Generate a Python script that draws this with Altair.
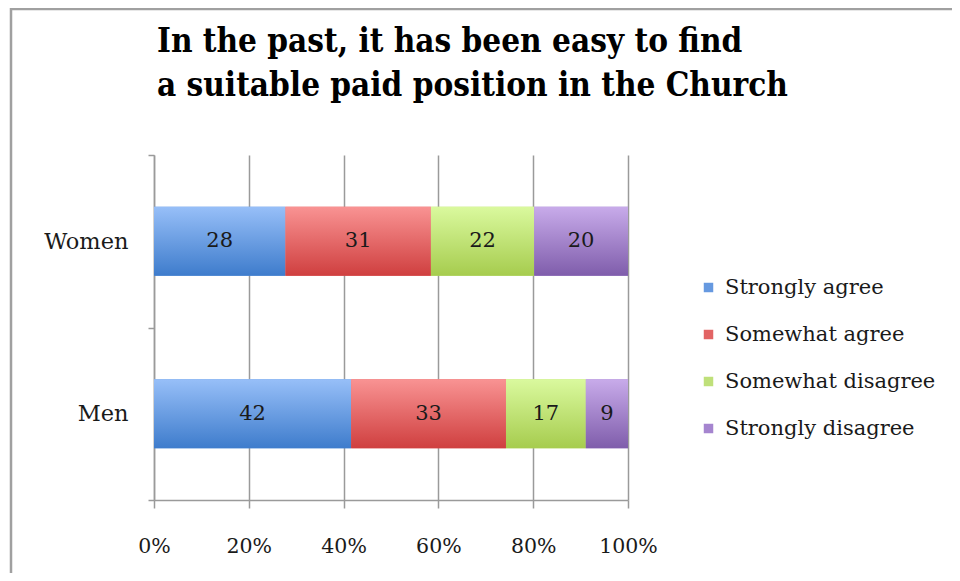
import altair as alt
import pandas as pd

groups = ["Women", "Men"]
responses = ["Strongly agree", "Somewhat agree", "Somewhat disagree", "Strongly disagree"]
women = [28, 31, 22, 20]
men = [42, 33, 17, 9]
tick_values = [0, 0.2, 0.4, 0.6, 0.8, 1.0]
solid_colors = ["#6699e0", "#e26464", "#bfe07a", "#a585cf"]
grad_stops = [
    ("#97bff8", "#3e7ccc"),
    ("#f99393", "#cf3f3f"),
    ("#daf99e", "#a6cc4e"),
    ("#c8abea", "#7f5dab"),
]
title_lines = ["In the past, it has been easy to find", "a suitable paid position in the Church"]

rows = []
for g, vals in zip(groups, [women, men]):
    for i, (r, v) in enumerate(zip(responses, vals)):
        rows.append({"group": g, "response": r, "value": v, "order": i})
df = pd.DataFrame(rows)

FONT = "DejaVu Serif"

base = (
    alt.Chart(df)
    .transform_joinaggregate(total="sum(value)", groupby=["group"])
    .transform_calculate(pct="datum.value / datum.total")
    .transform_stack(
        stack="pct",
        groupby=["group"],
        as_=["x0", "x1"],
        sort=[alt.SortField("order", order="ascending")],
    )
    .transform_calculate(mid="(datum.x0 + datum.x1) / 2")
)

y_enc = alt.Y(
    "group:N",
    sort=groups,
    scale=alt.Scale(paddingInner=0, paddingOuter=0),
    axis=alt.Axis(
        title=None,
        tickBand="extent",
        tickSize=6,
        labelPadding=20,
        labelFont=FONT,
        labelFontSize=22.5,
        labelColor="#1a1a1a",
        domainColor="#9a9a9a",
        tickColor="#9a9a9a",
        domainWidth=1.5,
        tickWidth=1.5,
        grid=False,
    ),
)

x_enc = alt.X(
    "x0:Q",
    scale=alt.Scale(domain=[0, 1], nice=False),
    axis=alt.Axis(
        title=None,
        values=tick_values,
        format=".0%",
        grid=True,
        gridColor="#9a9a9a",
        gridWidth=1.5,
        domainColor="#9a9a9a",
        tickColor="#9a9a9a",
        domainWidth=1.5,
        tickWidth=1.5,
        tickSize=8,
        labelPadding=28,
        labelFlush=False,
        labelFont=FONT,
        labelFontSize=20.5,
        labelColor="#1a1a1a",
    ),
)

bar_h = alt.RelativeBandSize(band=0.4)

solid = base.mark_bar(height=bar_h).encode(
    x=x_enc,
    x2="x1:Q",
    y=y_enc,
    color=alt.Color(
        "response:N",
        sort=responses,
        scale=alt.Scale(domain=responses, range=solid_colors),
        legend=alt.Legend(
            title=None,
            orient="none",
            legendX=544,
            legendY=122,
            symbolType="square",
            symbolSize=90,
            symbolStrokeWidth=0,
            labelFont=FONT,
            labelFontSize=21,
            labelColor="#1a1a1a",
            labelLimit=400,
            rowPadding=25,
            labelOffset=6,
        ),
    ),
)

layers = [solid]
for r, (top, bottom) in zip(responses, grad_stops):
    grad = alt.Gradient(
        gradient="linear",
        x1=0, y1=0, x2=0, y2=1,
        stops=[alt.GradientStop(color=top, offset=0), alt.GradientStop(color=bottom, offset=1)],
    )
    layers.append(
        base.transform_filter(alt.datum.response == r)
        .mark_bar(color=grad, height=bar_h)
        .encode(x="x0:Q", x2="x1:Q", y=alt.Y("group:N", sort=groups))
    )

text = base.mark_text(font=FONT, fontSize=21, color="#1a1a1a").encode(
    x="mid:Q", y=alt.Y("group:N", sort=groups), text="value:Q"
)
layers.append(text)

title = alt.Chart(alt.Data(values=[{}])).mark_text(
    text=title_lines,
    font="DejaVu Serif Condensed",
    fontSize=33,
    fontWeight="bold",
    color="#000000",
    align="left",
    baseline="alphabetic",
    lineHeight=43.5,
).encode(x=alt.value(3), y=alt.value(-103))
layers.append(title)

frame = alt.Chart(alt.Data(values=[{}])).mark_rect(
    filled=False, stroke="#a0a0a0", strokeWidth=2.5
).encode(
    x=alt.value(-143), x2=alt.value(1000), y=alt.value(-146), y2=alt.value(1000)
)
layers.append(frame)

chart = (
    alt.layer(*layers)
    .properties(
        width=474,
        height=345,
        autosize=alt.AutoSizeParams(type="none"),
        padding={"left": 146, "top": 147, "right": 324, "bottom": 73},
    )
    .configure_view(stroke=None)
)

chart.save("out.html", embed_options={"renderer": "svg", "actions": False})
